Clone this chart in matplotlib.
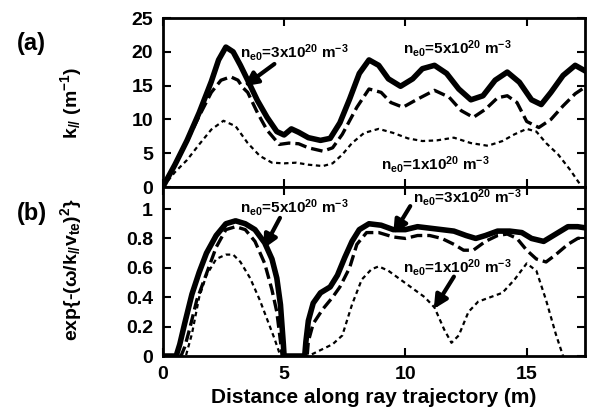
import numpy as np
import matplotlib
matplotlib.use("Agg")
import matplotlib.pyplot as plt

plt.rcParams['font.family'] = ['Liberation Sans', 'DejaVu Sans']
plt.rcParams['font.weight'] = 'bold'
plt.rcParams['mathtext.default'] = 'regular'

# ---- (a) k_par along ray ----
ka_x5 = [0, 0.5, 1.0, 1.5, 2.0, 2.3, 2.6, 2.9, 3.2, 3.5, 3.9, 4.3, 4.7, 5.0, 5.3, 5.6, 6.0, 6.5,
         6.9, 7.3, 7.7, 8.1, 8.5, 8.9, 9.3, 9.8, 10.3, 10.7, 11.2, 11.7, 12.2, 12.7, 13.2, 13.7,
         14.2, 14.7, 15.2, 15.6, 16.0, 16.5, 17.0, 17.5]
ka_y5 = [0, 3.3, 6.9, 11.0, 15.6, 18.8, 20.7, 20.0, 18.0, 15.8, 12.8, 10.3, 8.2, 7.7, 8.6, 8.1,
         7.3, 6.9, 7.2, 9.5, 13.0, 16.8, 18.8, 18.0, 16.0, 14.9, 16.0, 17.5, 18.0, 16.8, 14.5,
         12.9, 13.5, 15.8, 17.0, 15.5, 12.9, 12.2, 14.0, 16.5, 18.0, 17.0]

ka_x3 = [0, 0.5, 1.0, 1.5, 2.0, 2.4, 2.8, 3.1, 3.3, 3.5, 3.9, 4.3, 4.8, 5.2, 5.6, 6.0, 6.6, 7.0,
         7.4, 8.0, 8.5, 9.0, 9.4, 9.9, 10.5, 11.2, 11.8, 12.3, 12.8, 13.3, 13.8, 14.2, 14.6,
         15.0, 15.5, 16.0, 16.5, 17.0, 17.5]
ka_y3 = [0, 3.3, 6.8, 10.5, 14.0, 15.8, 16.3, 15.8, 14.7, 14.0, 11.0, 8.4, 6.3, 6.5, 6.4, 5.8,
         5.3, 5.8, 7.8, 11.8, 14.5, 14.0, 12.5, 11.8, 13.0, 14.3, 13.3, 11.3, 10.3, 11.5, 13.2,
         13.5, 12.5, 9.7, 8.8, 10.0, 12.0, 13.8, 15.0]

ka_x1 = [0, 0.5, 1.0, 1.5, 2.0, 2.5, 3.0, 3.5, 4.0, 4.5, 5.0, 5.5, 6.0, 6.6, 7.0, 7.4, 7.8, 8.3,
         8.9, 9.5, 10.1, 10.7, 11.3, 12.0, 12.7, 13.4, 14.0, 14.5, 15.0, 15.4, 15.8, 16.3,
         16.8, 17.2]
ka_y1 = [0, 2.2, 4.0, 6.3, 8.5, 9.8, 9.0, 6.5, 4.6, 3.6, 3.5, 3.6, 3.3, 3.1, 3.5, 4.8, 6.5,
         8.0, 8.6, 8.0, 7.2, 6.8, 6.9, 7.3, 6.5, 6.1, 6.8, 7.8, 8.6, 8.2, 6.5, 4.8, 2.5, 0.4]

# ---- (b) Landau factor exp{-(w/k v_te)^2} ----
eb_x5 = [0, 0.55, 0.7, 0.9, 1.2, 1.5, 1.8, 2.2, 2.6, 3.0, 3.4, 3.8, 4.2, 4.5, 4.7, 4.85, 4.97,
         5.0, 5.85, 5.9, 6.0, 6.2, 6.5, 6.9, 7.2, 7.5, 7.8, 8.1, 8.5, 9.0, 9.5, 10.0, 10.5, 11.0,
         11.5, 12.0, 12.5, 12.9, 13.3, 13.8, 14.3, 14.8, 15.2, 15.7, 16.2, 16.7, 17.1, 17.5]
eb_y5 = [0, 0, 0.08, 0.22, 0.42, 0.57, 0.70, 0.82, 0.90, 0.92, 0.90, 0.86, 0.77, 0.66, 0.53,
         0.35, 0.08, 0, 0, 0.10, 0.24, 0.36, 0.43, 0.47, 0.55, 0.67, 0.78, 0.86, 0.90, 0.89,
         0.86, 0.86, 0.88, 0.87, 0.86, 0.85, 0.82, 0.80, 0.82, 0.85, 0.85, 0.84, 0.80, 0.78,
         0.83, 0.88, 0.88, 0.87]

eb_x3 = [0, 0.75, 0.9, 1.1, 1.4, 1.8, 2.2, 2.6, 3.0, 3.4, 3.8, 4.2, 4.5, 4.7, 4.85, 4.92, 5.95,
         6.0, 6.2, 6.6, 7.0, 7.3, 7.7, 8.0, 8.4, 8.9, 9.5, 10.0, 10.5, 11.0, 11.5, 12.0, 12.4,
         12.8, 13.3, 13.8, 14.2, 14.6, 15.0, 15.4, 15.8, 16.2, 16.7, 17.1, 17.5]
eb_y3 = [0, 0, 0.06, 0.18, 0.38, 0.56, 0.74, 0.86, 0.88, 0.86, 0.78, 0.63, 0.45, 0.30, 0.10, 0,
         0, 0.10, 0.22, 0.32, 0.40, 0.47, 0.60, 0.76, 0.84, 0.84, 0.81, 0.80, 0.82, 0.82, 0.80,
         0.76, 0.72, 0.72, 0.78, 0.82, 0.83, 0.80, 0.72, 0.66, 0.64, 0.69, 0.76, 0.80, 0.81]

eb_x1 = [0, 0.95, 1.2, 1.5, 1.8, 2.2, 2.6, 2.9, 3.2, 3.6, 4.0, 4.3, 4.6, 4.85, 6.0, 6.5, 7.0,
         7.4, 7.8, 8.2, 8.6, 8.9, 9.3, 9.8, 10.3, 10.8, 11.2, 11.6, 11.9, 12.2, 12.6, 13.0,
         13.5, 14.0, 14.5, 15.0, 15.4, 15.8, 16.2, 16.5]
eb_y1 = [0, 0, 0.15, 0.40, 0.55, 0.66, 0.69, 0.69, 0.64, 0.53, 0.38, 0.25, 0.12, 0, 0, 0.04,
         0.08, 0.14, 0.35, 0.52, 0.59, 0.61, 0.58, 0.52, 0.46, 0.40, 0.33, 0.18, 0.09, 0.14,
         0.30, 0.37, 0.40, 0.43, 0.52, 0.63, 0.58, 0.38, 0.15, 0.0]

lab5 = r'n$_{e0}$=5x10$^{20}$ m$^{-3}$'
lab3 = r'n$_{e0}$=3x10$^{20}$ m$^{-3}$'
lab1 = r'n$_{e0}$=1x10$^{20}$ m$^{-3}$'

fig = plt.figure(figsize=(5.92, 4.18), dpi=100)
ax1 = fig.add_axes([0.275, 0.5526, 0.713, 0.4043])
ax2 = fig.add_axes([0.275, 0.1483, 0.713, 0.4043])

def draw(ax, x5, y5, x3, y3, x1, y1):
    ax.plot(x5, y5, color='k', lw=4.0, solid_joinstyle='round')
    ax.plot(x3, y3, color='k', lw=2.4, dashes=(3.5, 1.5))
    ax.plot(x1, y1, color='k', lw=1.6, dashes=(2, 1.6))
    ax.set_xlim(0, 17.4)
    ax.set_xticks([0, 5, 10, 15])
    ax.tick_params(direction='in', top=True, right=True, length=6, width=1.5,
                   labelsize=14, pad=7)
    for s in ax.spines.values():
        s.set_linewidth(2)

draw(ax1, ka_x5, ka_y5, ka_x3, ka_y3, ka_x1, ka_y1)
draw(ax2, eb_x5, eb_y5, eb_x3, eb_y3, eb_x1, eb_y1)

ax1.set_ylim(0, 25)
ax1.set_yticks([0, 5, 10, 15, 20, 25])
ax1.tick_params(labelbottom=False)
ax1.set_ylabel(r'k$_{//}$ (m$^{-1}$)', fontsize=14, fontweight='bold')
ax1.yaxis.set_label_coords(-0.187, 0.5)

ax2.set_ylim(0, 1.15)
ax2.set_yticks([0, 0.2, 0.4, 0.6, 0.8, 1])
ax2.set_yticklabels(['0', '0.2', '0.4', '0.6', '0.8', '1'])
ax2.set_ylabel(r'exp{-(ω/k$_{//}$v$_{te}$)$^{2}$}', fontsize=14, fontweight='bold')
ax2.yaxis.set_label_coords(-0.187, 0.51)
ax2.set_xlabel('Distance along ray trajectory (m)', fontsize=15, fontweight='bold',
               labelpad=4)

arr = dict(arrowstyle='-|>', lw=3, color='k', mutation_scale=20, shrinkA=0, shrinkB=0)

# annotations panel (a)
ax1.text(3.2, 19.9, lab3, fontsize=11, fontweight='bold', va='center')
ax1.annotate('', xy=(3.35, 14.9), xytext=(4.6, 18.2), arrowprops=arr)
ax1.text(9.9, 20.5, lab5, fontsize=11, fontweight='bold', va='center')
ax1.text(9.0, 3.4, lab1, fontsize=11, fontweight='bold', va='center')

# annotations panel (b)
ax2.text(3.2, 1.01, lab5, fontsize=11, fontweight='bold', va='center')
ax2.annotate('', xy=(4.15, 0.73), xytext=(4.83, 0.94), arrowprops=arr)
ax2.text(10.3, 1.08, lab3, fontsize=11, fontweight='bold', va='center')
ax2.annotate('', xy=(9.5, 0.83), xytext=(10.2, 1.02), arrowprops=arr)
ax2.text(9.9, 0.6, lab1, fontsize=11, fontweight='bold', va='center')
ax2.annotate('', xy=(11.17, 0.32), xytext=(12.0, 0.54), arrowprops=arr)

fig.text(0.029, 0.897, '(a)', fontsize=17, fontweight='bold', va='center')
fig.text(0.029, 0.49, '(b)', fontsize=17, fontweight='bold', va='center')

fig.savefig('out.png', dpi=100)
